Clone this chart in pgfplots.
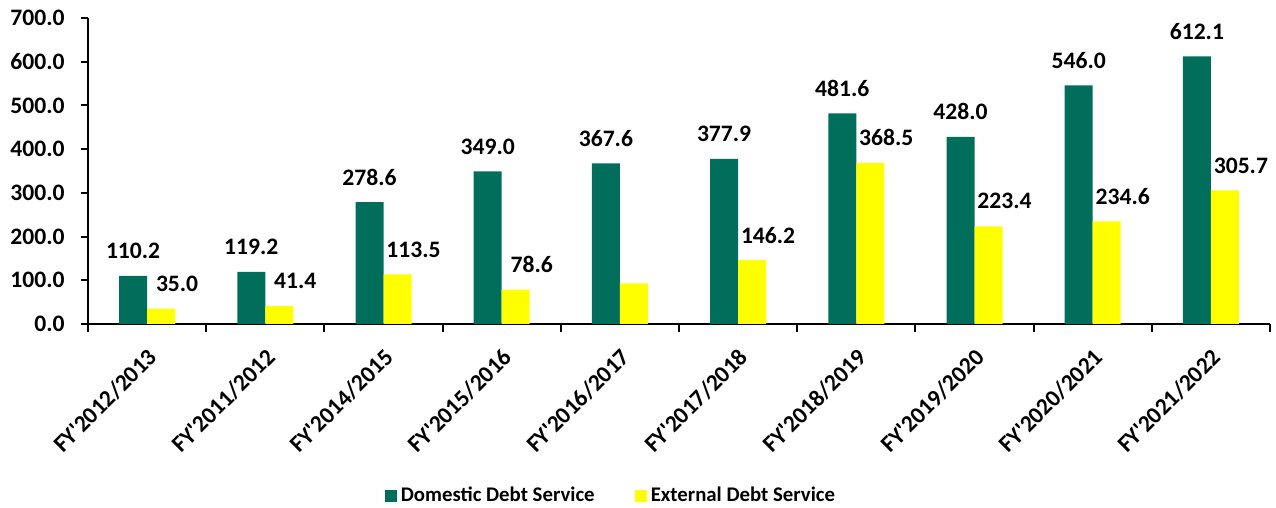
\documentclass[border=0pt]{standalone}
\usepackage{fontspec}
\setmainfont{Carlito}
\usepackage{pgfplots}
\pgfplotsset{compat=1.18}
\usepackage{pgfplotstable}

\definecolor{domgreen}{RGB}{0,110,90}
\definecolor{extyellow}{RGB}{255,255,0}
% straight apostrophe, kept out of the TeX ligature mapping
\newcommand\apos{\XeTeXglyph\the\XeTeXcharglyph"27\relax}
\newcommand\lblfont{\bfseries\fontsize{11.8}{13}\selectfont}
\newcommand\legfont{\bfseries\fontsize{10.4}{12}\selectfont}

\pgfplotstableread{
x y lab
0 110.2 110.2
1 119.2 119.2
2 278.6 278.6
3 349.0 349.0
4 367.6 367.6
5 377.9 377.9
6 481.6 481.6
7 428.0 428.0
8 546.0 546.0
9 612.1 612.1
}\domestic

\pgfplotstableread{
x y lab
0 35.0 35.0
1 41.4 41.4
2 113.5 113.5
3 78.6 78.6
4 93.1 {}
5 146.2 146.2
6 368.5 368.5
7 223.4 223.4
8 234.6 234.6
9 305.7 305.7
}\external

\begin{document}
\begin{tikzpicture}
\begin{axis}[
  scale only axis,
  width=591pt, height=153pt,
  ybar=0pt, bar width=14pt,
  xmin=-0.5, xmax=9.5,
  ymin=0, ymax=700,
  ytick={0,100,...,700},
  xtick={0,...,9},
  xticklabels={FY\apos2012/2013,FY\apos2011/2012,FY\apos2014/2015,FY\apos2015/2016,FY\apos2016/2017,
    FY\apos2017/2018,FY\apos2018/2019,FY\apos2019/2020,FY\apos2020/2021,FY\apos2021/2022},
  minor xtick={-0.5,0.5,...,9.5},
  major x tick style={draw=none},
  tick align=outside,
  major tick length=3.5pt,
  minor tick length=4pt,
  tick style={black, line width=1pt},
  minor tick style={black, line width=1pt},
  axis lines*=left,
  axis line style={line width=1pt, black},
  clip=false,
  ticklabel style={font=\lblfont},
  /pgf/number format/assume math mode=true,
  yticklabel={\pgfmathprintnumber[fixed, fixed zerofill, precision=1]{\tick}},
  yticklabel style={anchor=east, inner sep=0pt, xshift=-8pt},
  xticklabel style={inner sep=0pt, xshift=3pt, yshift=-11pt, rotate=45, anchor=east},
  point meta=explicit symbolic,
  nodes near coords,
  every node near coord/.append style={font=\lblfont, anchor=center, yshift=12.5pt},
  legend columns=2,
  legend style={at={(0.4433,-0.562)}, anchor=center, draw=none, fill=none,
    font=\legfont, /tikz/every even column/.append style={column sep=18pt}},
  legend image code/.code={\fill[#1] (0pt,-3pt) rectangle (6pt,3pt);},
]
\addplot[fill=domgreen, draw=none] table[x=x, y=y, meta=lab] {\domestic};
\addplot[fill=extyellow, draw=none,
  every node near coord/.append style={xshift=8pt}] table[x=x, y=y, meta=lab] {\external};
\legend{Domestic Debt Service, External Debt Service}
\end{axis}
\pgfresetboundingbox
\useasboundingbox (-44pt,-92pt) rectangle (594pt,162pt);
\end{tikzpicture}
\end{document}
